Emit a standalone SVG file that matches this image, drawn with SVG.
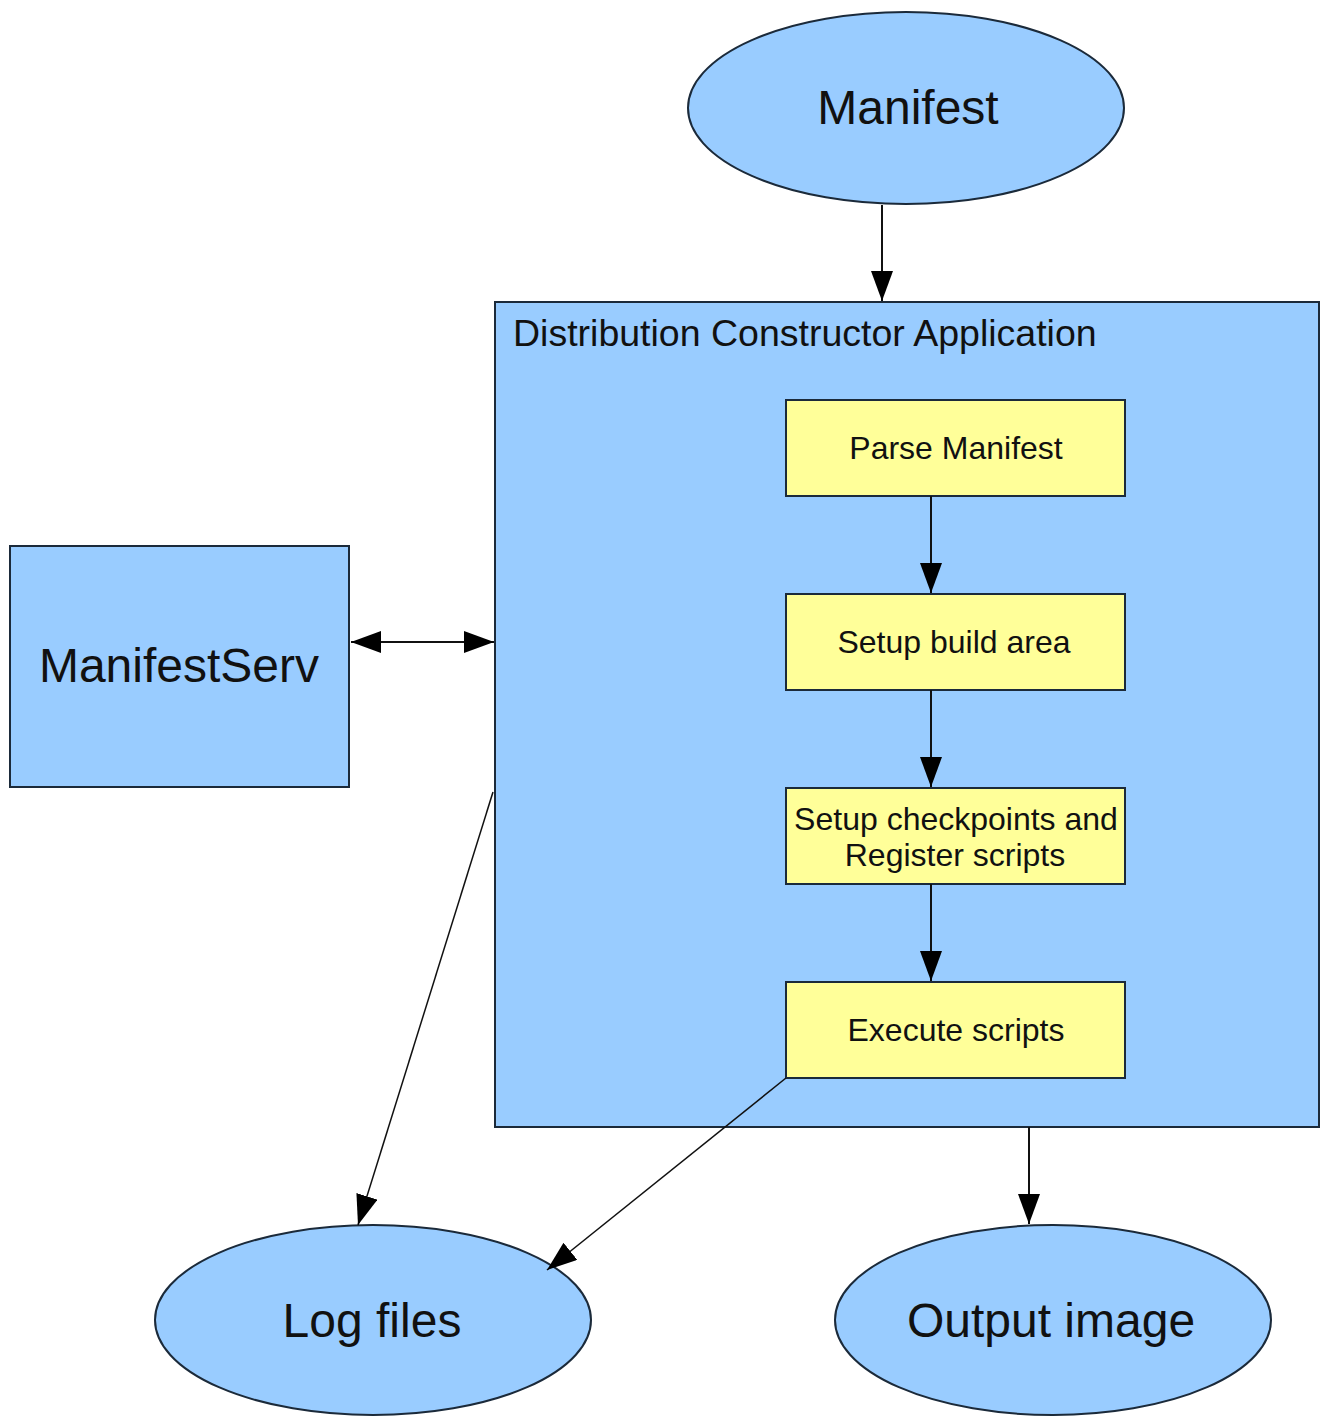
<svg xmlns="http://www.w3.org/2000/svg" width="1320" height="1416" viewBox="0 0 1320 1416">
<style>
.blue{fill:#99ccff;stroke:#1b2a3a;stroke-width:2}
.yel{fill:#ffff99;stroke:#1b2a3a;stroke-width:2}
.t{font-family:"Liberation Sans",Arial,sans-serif;fill:#111;text-anchor:middle}
.big{font-size:48px}
.sm{font-size:32px}
.ln{stroke:#111;stroke-width:2;fill:none}
</style>
<defs>
<marker id="ah" markerUnits="userSpaceOnUse" markerWidth="32" markerHeight="24" refX="30" refY="11" orient="auto-start-reverse">
<path d="M0,0 L30,11 L0,22 Z" fill="#000"/>
</marker>
</defs>
<rect width="1320" height="1416" fill="#fff"/>
<g id="manifest">
<ellipse class="blue" cx="906" cy="108" rx="218" ry="96"/>
<text class="t big" x="908" y="124">Manifest</text>
</g>
<g id="dca">
<rect class="blue" x="495" y="302" width="824" height="825"/>
<text class="t" x="513" y="346" style="text-anchor:start;font-size:37.5px">Distribution Constructor Application</text>
</g>
<g id="parse">
<rect class="yel" x="786" y="400" width="339" height="96"/>
<text class="t sm" x="956" y="459">Parse Manifest</text>
</g>
<g id="setup">
<rect class="yel" x="786" y="594" width="339" height="96"/>
<text class="t sm" x="954" y="653">Setup build area</text>
</g>
<g id="checkpoints">
<rect class="yel" x="786" y="788" width="339" height="96"/>
<text class="t sm" x="956" y="830">Setup checkpoints and</text>
<text class="t sm" x="955" y="866">Register scripts</text>
</g>
<g id="execute">
<rect class="yel" x="786" y="982" width="339" height="96"/>
<text class="t sm" x="956" y="1041">Execute scripts</text>
</g>
<g id="manifestserv">
<rect class="blue" x="10" y="546" width="339" height="241"/>
<text class="t big" x="179" y="682">ManifestServ</text>
</g>
<g id="logfiles">
<ellipse class="blue" cx="373" cy="1320" rx="218" ry="95"/>
<text class="t big" x="372" y="1337">Log files</text>
</g>
<g id="outputimage">
<ellipse class="blue" cx="1053" cy="1320" rx="218" ry="95"/>
<text class="t big" x="1051" y="1337">Output image</text>
</g>
<g id="connectors">
<line class="ln" x1="882" y1="205" x2="882" y2="301" marker-end="url(#ah)"/>
<line class="ln" x1="931" y1="496" x2="931" y2="593" marker-end="url(#ah)"/>
<line class="ln" x1="931" y1="690" x2="931" y2="787" marker-end="url(#ah)"/>
<line class="ln" x1="931" y1="884" x2="931" y2="981" marker-end="url(#ah)"/>
<line class="ln" x1="351" y1="642" x2="494" y2="642" marker-start="url(#ah)" marker-end="url(#ah)"/>
<line class="ln" x1="493" y1="792" x2="358" y2="1225" style="stroke-width:1.5" marker-end="url(#ah)"/>
<line class="ln" x1="786" y1="1078" x2="547" y2="1270" style="stroke-width:1.5" marker-end="url(#ah)"/>
<line class="ln" x1="1029" y1="1127" x2="1029" y2="1224" marker-end="url(#ah)"/>
</g>
</svg>
